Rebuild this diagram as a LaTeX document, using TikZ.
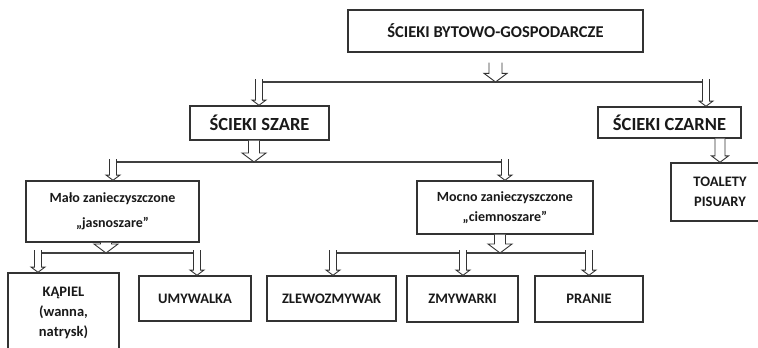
\documentclass[tikz,border=0pt]{standalone}
\usepackage{fontspec}
\setmainfont{Carlito}
\usetikzlibrary{calc}

\tikzset{
  box/.style={draw=black!80, line width=1.4pt, align=center, inner sep=0pt, text=black!90},
  titletext/.style={font=\bfseries\fontsize{16.5}{20}\selectfont},
  bigtext/.style={font=\bfseries\fontsize{18.5}{22}\selectfont},
  captext/.style={font=\bfseries\fontsize{14.5}{20}\selectfont},
  lowtext/.style={font=\bfseries\fontsize{14}{20}\selectfont},
  busline/.style={draw=black!75, line width=1.2pt},
  arrowbody/.style={draw=black!80, line width=0.9pt, fill=white, line join=miter},
}
% hollow down arrow: from, to, shaft half width, head half width
\newcommand{\hollowarrow}[4]{%
  \path[arrowbody] let \p1=(#1), \p2=(#2), \n1={#4*0.75} in
    (\x1-#3,\y1) -- (\x1-#3,\y2+\n1) -- (\x1-#4,\y2+\n1) -- (\x1,\y2)
    -- (\x1+#4,\y2+\n1) -- (\x1+#3,\y2+\n1) -- (\x1+#3,\y1);
}

\begin{document}
\begin{tikzpicture}[x=1pt,y=-1pt]
\useasboundingbox (0,0) rectangle (758,348);
\clip (0,0) rectangle (758,348);
% boxes
\node[box, titletext, minimum width=295, minimum height=42] (sbg) at (495.5,31) {ŚCIEKI BYTOWO-GOSPODARCZE};
\node[box, bigtext, minimum width=139, minimum height=34] (szare) at (259.5,123) {ŚCIEKI SZARE};
\node[box, bigtext, minimum width=143, minimum height=31] (czarne) at (669.5,122.5) {ŚCIEKI CZARNE};
\node[box, captext, minimum width=98, minimum height=58] (toalety) at (720,192) {TOALETY\\PISUARY};
\node[box, lowtext, minimum width=173, minimum height=61] (malo) at (112.5,211.5) {Mało zanieczyszczone\\[5pt]„jasnoszare”};
\node[box, lowtext, minimum width=176, minimum height=53] (mocno) at (505,207.5) {Mocno zanieczyszczone\\„ciemnoszare”};
\node[box, captext, minimum width=111, minimum height=80] (kapiel) at (63.5,313) {KĄPIEL\\(wanna,\\natrysk)};
\node[box, captext, minimum width=112, minimum height=45] (umywalka) at (195,298.5) {UMYWALKA};
\node[box, captext, minimum width=129, minimum height=45] (zlewo) at (331.5,298.5) {ZLEWOZMYWAK};
\node[box, captext, minimum width=111, minimum height=46] (zmywarki) at (462.5,299) {ZMYWARKI};
\node[box, captext, minimum width=108, minimum height=46] (pranie) at (589,299) {PRANIE};
% bus lines
\coordinate (b1) at (495.5,82);
\coordinate (b1l) at (259,82);
\coordinate (b1r) at (706,82);
\coordinate (b2) at (254,162);
\coordinate (b2l) at (113,162);
\coordinate (b2r) at (505,162);
\coordinate (b3) at (106,253);
\coordinate (b3l) at (38,253);
\coordinate (b3r) at (197,253);
\coordinate (b4) at (500,253);
\coordinate (b4l) at (333,253);
\coordinate (b4m) at (463,253);
\coordinate (b4r) at (589,253);
\foreach \a/\b in {b1l/b1r, b2l/b2r, b3l/b3r, b4l/b4r}
  \draw[busline] (\a) -- (\b);
% arrows into the bus
\hollowarrow{$(sbg.south)+(0,10)$}{b1}{6.5}{11.5}
\foreach \a/\b in {szare/b2, malo/b3, mocno/b4}{
  \hollowarrow{\b |- \a.south}{\b}{5.5}{12}
}
% arrows out of the bus
\foreach \a/\b in {b1l/szare, b1r/czarne, b2l/malo, b2r/mocno, b3l/kapiel, b3r/umywalka, b4l/zlewo, b4m/zmywarki, b4r/pranie}{
  \hollowarrow{$(\a)+(0,-3)$}{\b.north}{3.5}{7}
}
\hollowarrow{toalety.north |- czarne.south}{toalety.north}{5}{8.5}
\end{tikzpicture}
\end{document}
